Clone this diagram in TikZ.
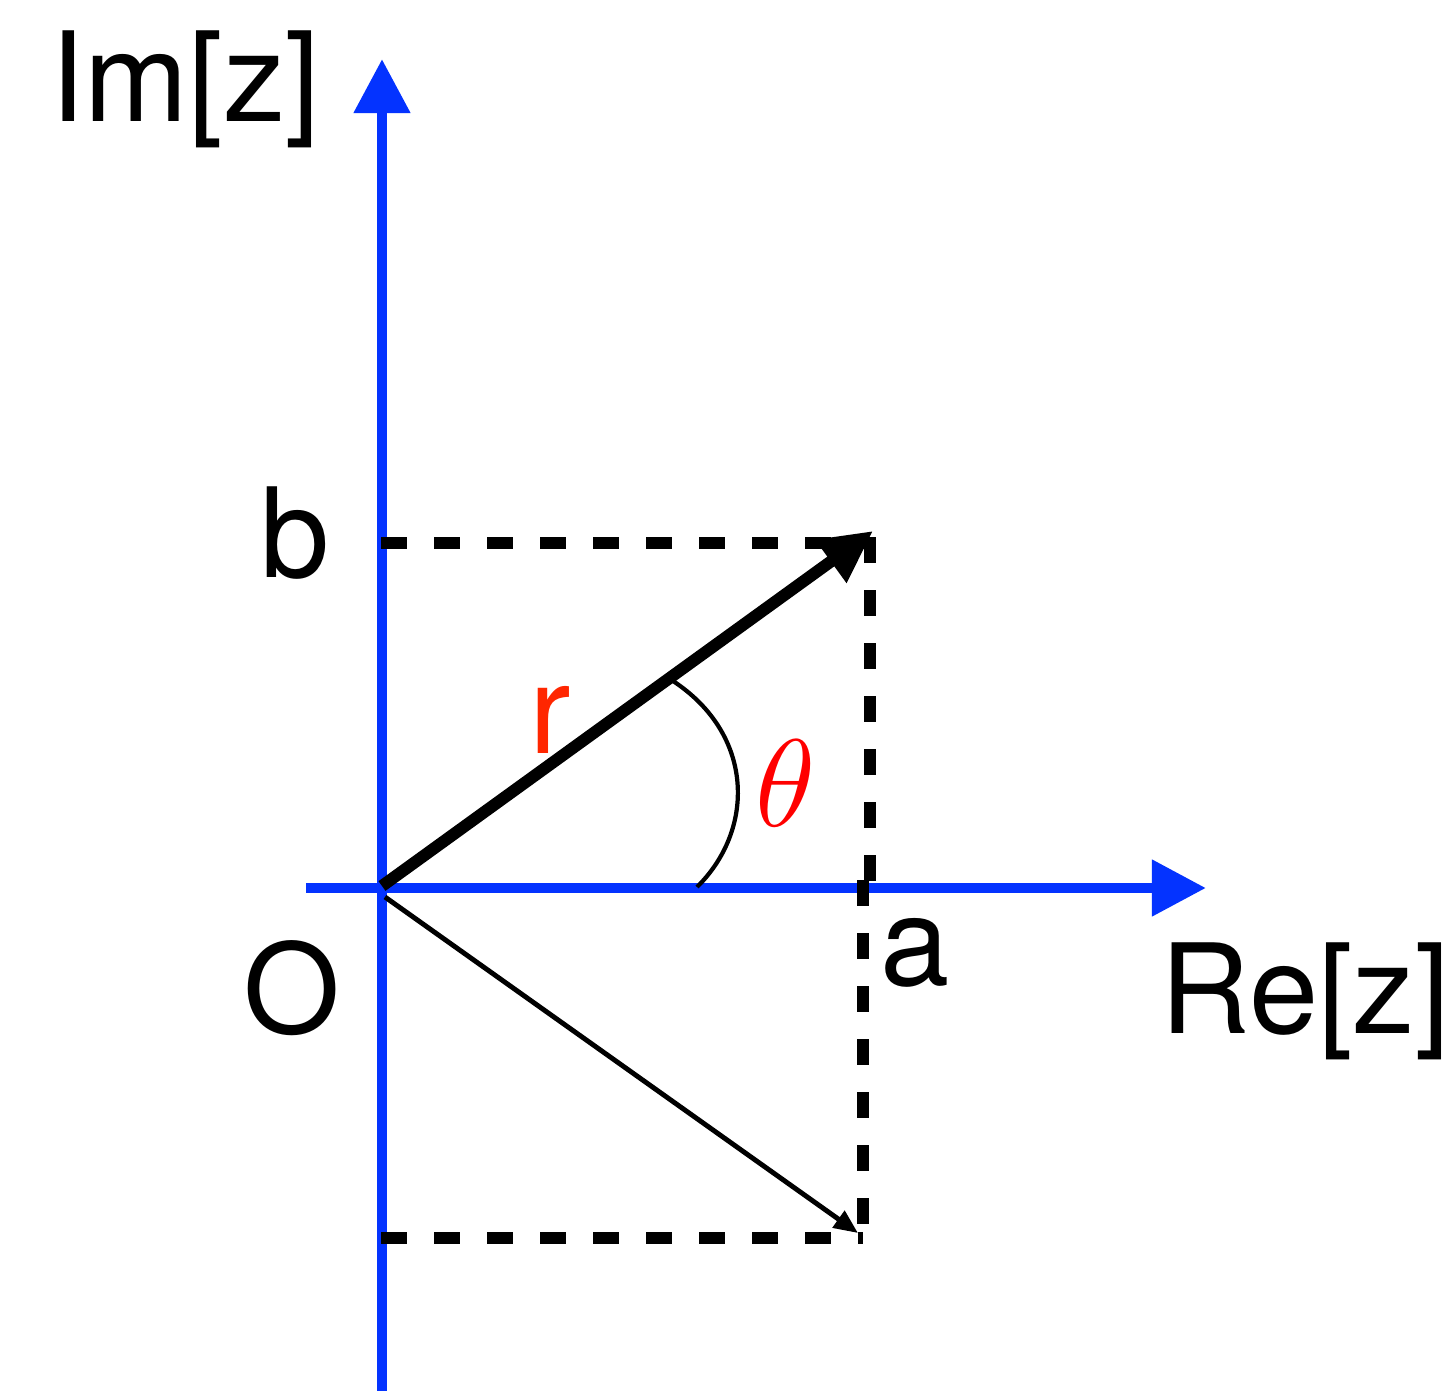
\documentclass[tikz,border=0pt]{standalone}
\usepackage{fix-cm}
\usepackage{fontspec}
\setmainfont{TeX Gyre Heros}
\usetikzlibrary{arrows.meta}
\definecolor{axisblue}{HTML}{0433FF}
\definecolor{rred}{HTML}{FF2600}
\definecolor{threD}{HTML}{FF0000}
\begin{document}
\begin{tikzpicture}[x=0.01cm,y=-0.01cm,
  lbl/.style={anchor=base,inner sep=0pt,font=\fontsize{35.4}{40}\selectfont},
  axis/.style={draw=axisblue,line width=3.1pt,-{Triangle[length=0.54cm,width=0.54cm]},color=axisblue},
  vec/.style={draw=black,line width=3.4pt,-{Triangle[length=0.52cm,width=0.5cm]}},
  thinvec/.style={draw=black,line width=1.4pt,-{Triangle[length=0.24cm,width=0.2cm]}},
  dsh/.style={draw=black,line width=3.5pt,dash pattern=on 0.26cm off 0.27cm}]
\useasboundingbox (0,0) rectangle (1445,1391);
% coordinates
\coordinate (O) at (382,886);
\coordinate (ybot) at (382,1391);
\coordinate (ytop) at (382,59);
\coordinate (xl) at (306,888);
\coordinate (xr) at (1206,888);
\coordinate (P) at (873,531);
\coordinate (Pc) at (858,1233);
\coordinate (bl) at (381,543);
\coordinate (br) at (876,543);
\coordinate (vt) at (870,537);
\coordinate (vm) at (870,883);
\coordinate (lt) at (863,880);
\coordinate (lb) at (863,1245);
\coordinate (cl) at (381,1238);
\coordinate (cr) at (863,1238);
\coordinate (Os) at (385,897);
\coordinate (A1) at (673,681);
\coordinate (A2) at (697,887);
% axes
\draw[axis] (ybot) -- (ytop);
\draw[axis] (xl) -- (xr);
% dashed guides
\draw[dsh] (bl) -- (br);
\draw[dsh] (vt) -- (vm);
\draw[dsh] (lt) -- (lb);
\draw[dsh] (cl) -- (cr);
% vectors
\draw[vec] (O) -- (P);
\draw[thinvec] (Os) -- (Pc);
% angle arc
\draw[line width=1.2pt] (A1) .. controls (755,735) and (755,830) .. (A2);
% labels
\node[lbl] (im) at (185,122) {Im[z]};
\node[lbl] (re) at (1305,1033) {Re[z]};
\node[lbl] (b) at (295,577) {b};
\node[lbl] (a) at (915,985) {a};
\node[lbl] (o) at (292,1033) {O};
\node[lbl,text=rred] (r) at (550,753) {r};
\node[lbl,text=threD] (th) at (786,826) {$\theta$};
\end{tikzpicture}
\end{document}
